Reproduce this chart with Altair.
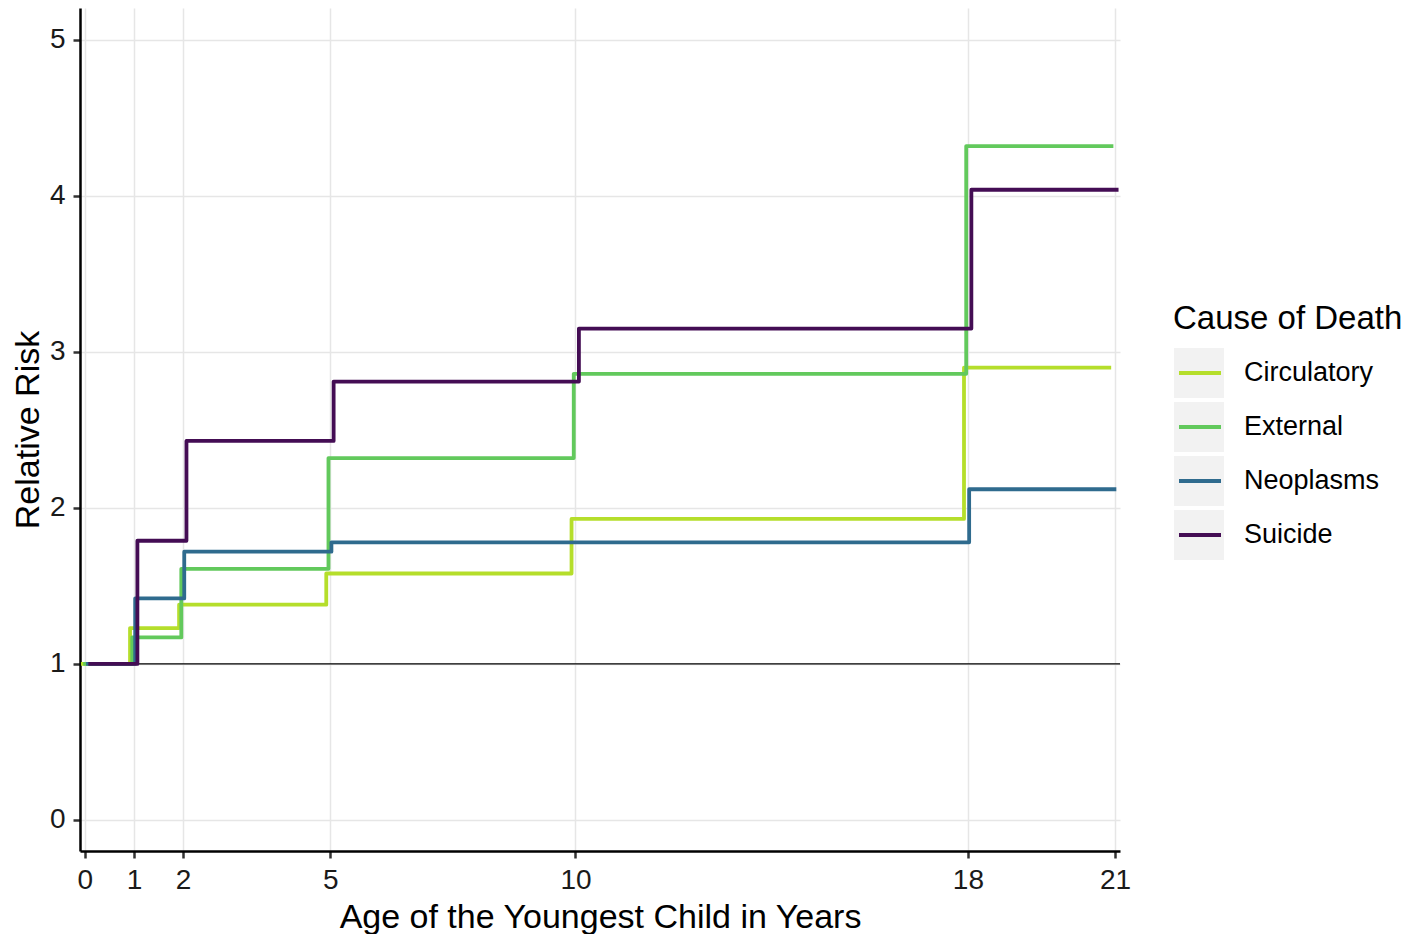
import altair as alt
import pandas as pd

# ---- data ----
causes = ["Circulatory", "External", "Neoplasms", "Suicide"]
colors = ["#B5DE2B", "#62C95C", "#2F6B8E", "#440D54"]
age_breaks = [0, 1, 2, 5, 10, 18, 21]
circulatory = [1.00, 1.23, 1.38, 1.58, 1.93, 2.90]
external = [1.00, 1.17, 1.61, 2.32, 2.86, 4.32]
neoplasms = [1.00, 1.42, 1.72, 1.78, 1.78, 2.12]
suicide = [1.00, 1.79, 2.43, 2.81, 3.15, 4.04]
x_ticks = [0, 1, 2, 5, 10, 18, 21]
y_ticks = [0, 1, 2, 3, 4, 5]
reference_level = 1
x_title = "Age of the Youngest Child in Years"
y_title = "Relative Risk"
legend_title = "Cause of Death"

# small horizontal dodge between the series (as in the reference)
dodge = {"Circulatory": -0.08, "External": -0.035, "Neoplasms": 0.025, "Suicide": 0.07}

series = {"Circulatory": circulatory, "External": external,
          "Neoplasms": neoplasms, "Suicide": suicide}
rows = []
for cause in causes:
    vals = series[cause] + [series[cause][-1]]
    for x, v in zip(age_breaks, vals):
        rows.append({"age": x + dodge[cause], "rr": v, "cause": cause})
df = pd.DataFrame(rows)

FONT = "Liberation Sans"
color_scale = alt.Scale(domain=causes, range=colors)

x_enc = alt.X("age:Q", scale=alt.Scale(domain=[-0.1, 21.1], nice=False, zero=False),
              axis=alt.Axis(values=x_ticks, title=x_title, format="d", titlePadding=6))
y_enc = alt.Y("rr:Q", scale=alt.Scale(domain=[-0.199, 5.205], nice=False, zero=False),
              axis=alt.Axis(values=y_ticks, title=y_title, format="d", titlePadding=4))

ref_line = alt.Chart(pd.DataFrame({"rr": [reference_level]})).mark_rule(
    color="black", strokeWidth=1.3).encode(y=alt.Y("rr:Q"))

lines = alt.Chart(df).mark_line(interpolate="step-after", strokeWidth=3.8,
                                strokeJoin="round").encode(
    x=x_enc, y=y_enc,
    color=alt.Color("cause:N", scale=color_scale, legend=None),
    order=alt.Order("age:Q"),
)

main = alt.layer(ref_line, lines).properties(width=1040, height=843)

# ---- custom legend (grey key backgrounds like ggplot) ----
leg_df = pd.DataFrame({"cause": causes})
leg_scale = alt.Scale(type="band", domain=causes, range=[338, 554],
                      paddingInner=0.074, paddingOuter=0.037)
leg_y = alt.Y("cause:N", sort=causes, axis=None, scale=leg_scale, bandPosition=0.5)
leg_y_band = alt.Y("cause:N", sort=causes, axis=None, scale=leg_scale)
boxes = alt.Chart(leg_df).mark_rect(color="#F2F2F2").encode(
    x=alt.value(0), x2=alt.value(50), y=leg_y_band)
keys = alt.Chart(leg_df).mark_rule(strokeWidth=4).encode(
    x=alt.value(5), x2=alt.value(47), y=leg_y,
    color=alt.Color("cause:N", scale=color_scale, legend=None))
labels = alt.Chart(leg_df).mark_text(align="left", baseline="middle", fontSize=27,
                                     font=FONT, color="black").encode(
    x=alt.value(70), y=leg_y, text="cause:N")
title_txt = alt.Chart(pd.DataFrame({"t": [legend_title]})).mark_text(
    align="left", baseline="alphabetic", fontSize=33, font=FONT, color="black").encode(
    x=alt.value(-1), y=alt.value(321), text="t:N")
legend = alt.layer(boxes, keys, labels, title_txt).properties(width=200, height=843)

chart = alt.hconcat(main, legend, spacing=42).properties(
    padding={"left": 3, "top": 0, "right": 0, "bottom": 0}
).configure_view(strokeWidth=0).configure_axis(
    domainColor="black", domainWidth=2.5,
    tickColor="#333333", tickWidth=2.5, tickSize=7,
    labelFont=FONT, labelFontSize=28, labelColor="#1a1a1a", labelPadding=8,
    titleFont=FONT, titleFontSize=34, titleColor="black", titleFontWeight="normal",
    titlePadding=8,
    gridColor="#E6E6E6", gridWidth=1.5,
)

chart.save("out.html", embed_options={"renderer": "svg", "actions": False})
